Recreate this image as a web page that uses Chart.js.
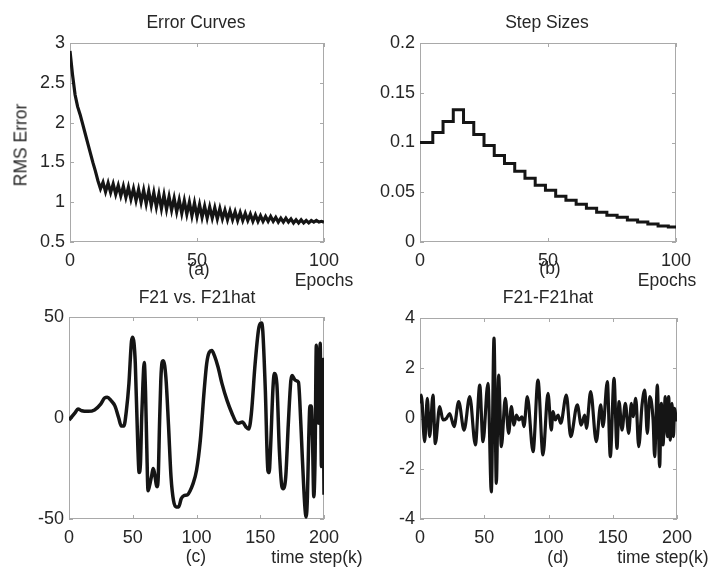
<!DOCTYPE html>
<html lang="en">
<head>
<meta charset="UTF-8">
<title>Error Curves / Step Sizes / F21 vs. F21hat</title>
<script src="https://cdn.jsdelivr.net/npm/chart.js@4.4.1/dist/chart.umd.min.js"></script>
<style>
  body { margin: 0; background: #fff; }
  #page { position: relative; width: 716px; height: 582px; overflow: hidden;
          font-family: "Liberation Sans", Arial, sans-serif; color: #262626; }
  .layer { position: absolute; left: 0; top: 0; }
  .txt { position: absolute; transform: translate(-50%, -50%); font-size: 17.5px; white-space: nowrap; }
  .rot { transform: translate(-50%, -50%) rotate(-90deg); }
</style>
</head>
<body>
<div id="page">
  <canvas id="chartA" class="layer" width="716" height="582"></canvas>
  <canvas id="chartB" class="layer" width="716" height="582"></canvas>
  <canvas id="chartC" class="layer" width="716" height="582"></canvas>
  <canvas id="chartD" class="layer" width="716" height="582"></canvas>

  <div class="txt" style="left:196px;top:22px">Error Curves</div>
  <div class="txt" style="left:547px;top:22px">Step Sizes</div>
  <div class="txt rot" style="left:21px;top:145px">RMS Error</div>
  <div class="txt" style="left:199px;top:269px">(a)</div>
  <div class="txt" style="left:324px;top:280px">Epochs</div>
  <div class="txt" style="left:550px;top:268px">(b)</div>
  <div class="txt" style="left:667px;top:280px">Epochs</div>

  <div class="txt" style="left:197px;top:297px">F21 vs. F21hat</div>
  <div class="txt" style="left:548px;top:297px">F21-F21hat</div>
  <div class="txt" style="left:196px;top:556px">(c)</div>
  <div class="txt" style="left:317px;top:557px">time step(k)</div>
  <div class="txt" style="left:558px;top:557px">(d)</div>
  <div class="txt" style="left:663px;top:557px">time step(k)</div>
</div>

<script>
// (a) RMS error per epoch 0..100
const rmsError = [
  2.9, 2.6, 2.35, 2.2, 2.1, 1.98, 1.86, 1.74, 1.62, 1.5,
  1.39, 1.27, 1.17, 1.25, 1.13, 1.24, 1.12, 1.23, 1.1, 1.21,
  1.08, 1.2, 1.06, 1.19, 1.04, 1.17, 1.02, 1.16, 1.0, 1.15,
  0.98, 1.14, 0.96, 1.12, 0.94, 1.1, 0.92, 1.09, 0.91, 1.07,
  0.9, 1.05, 0.88, 1.03, 0.86, 1.02, 0.85, 1.0, 0.83, 0.99,
  0.82, 0.97, 0.81, 0.95, 0.8, 0.94, 0.8, 0.93, 0.79, 0.92,
  0.79, 0.9, 0.78, 0.89, 0.78, 0.88, 0.77, 0.87, 0.77, 0.86,
  0.77, 0.85, 0.76, 0.84, 0.76, 0.83, 0.76, 0.82, 0.76, 0.82,
  0.76, 0.81, 0.75, 0.8, 0.75, 0.8, 0.75, 0.79, 0.74, 0.78,
  0.74, 0.78, 0.74, 0.77, 0.74, 0.77, 0.75, 0.77, 0.75, 0.76,
  0.75
];
const aTicksX = [0, 50, 100];
const aTicksY = [0.5, 1, 1.5, 2, 2.5, 3];

// (b) step size levels, each starting at the given epoch
const stepEpochs = [0, 5, 9, 13, 17, 21, 25, 29, 33, 37, 41, 45, 49, 53, 57, 61, 65, 69, 73, 77, 81, 85, 89, 93, 97, 100];
const stepSizes = [0.1, 0.11, 0.121, 0.133, 0.12, 0.108, 0.097, 0.087, 0.079, 0.071, 0.064, 0.057, 0.052,
                   0.046, 0.042, 0.038, 0.034, 0.030, 0.027, 0.025, 0.022, 0.020, 0.018, 0.016, 0.015, 0.015];
const bTicksX = [0, 50, 100];
const bTicksY = [0, 0.05, 0.1, 0.15, 0.2];

// (c) F21 tracking
const timeC = [0, 5, 7, 10, 15, 20, 25, 28, 30, 33, 36, 39, 41, 43, 45, 47, 49, 50, 51, 52,
  54, 55, 56, 57, 58, 59, 60, 61, 62, 63, 65, 66, 67, 69, 70, 71, 72, 73, 74, 76,
  78, 80, 82, 84, 86, 88, 90, 93, 95, 97, 100, 103, 106, 108, 110, 112, 114, 117, 120, 124,
  128, 131, 133, 136, 139, 141, 143, 146, 149, 151, 152, 154, 156, 157, 158, 160, 161, 163, 165, 167,
  168, 170, 172, 174, 175, 177, 178, 180, 181, 183, 185, 186, 187, 188, 189, 190, 191, 192, 193, 194,
  195, 196, 197, 198, 199, 200];
const f21 = [-1, 2.8, 4.5, 3.6, 3.3, 4, 7, 10, 10.3, 8.6, 6, 0, -4, -4, 3.6, 17, 38, 40, 37, 27,
  -14.5, -27, -23, 0, 17, 27.5, 13.5, -14.5, -36, -34, -28, -25, -27, -34, -29, -3, 18.5, 27.5, 28.4, 20,
  -3, -29, -41, -44, -44, -40, -38.5, -38, -36, -33, -26, -11, 13.5, 27, 32.5, 33.4, 31, 25, 17, 8.6,
  2, -2, -2.6, -2, -4.6, -5.5, 2, 27, 45, 47, 43, 13.5, -26, -27, -16, 15, 22, 17, -16, -34,
  -35, -29, -3, 18.5, 21, 19, 18.5, 17.7, 8.6, -19.5, -44, -49, -39, -11, 6, 6, -11, -39, -19.5, 36,
  -2, -2.6, 37, -24, 29, -38];
const cTicksX = [0, 50, 100, 150, 200];
const cTicksY = [-50, 0, 50];

// (d) F21 - F21hat
const timeD = [0, 1, 3.6, 5.7, 7.5, 10.1, 11.9, 15.3, 17.9, 20.5, 23.1, 26.5, 30.1, 34.3, 38.7, 43.1, 46.5, 49, 52.9, 55.5,
  57.6, 59.4, 61.2, 63.3, 66.4, 69, 71.1, 73.1, 75, 77, 79.4, 80.9, 83.5, 88, 91.8, 95.7, 99.6, 102.2, 103.5, 105.3,
  107.4, 109.5, 113.9, 117.3, 122.4, 125.5, 128.2, 129.5, 132.8, 137.2, 140.6, 142.4, 145.8, 148.1, 151, 153.3, 154.9, 157.2, 159.8, 162.4,
  164.5, 165.8, 167.9, 170.2, 172.8, 174.9, 176.9, 178.8, 181.4, 182.6, 184.7, 186.5, 187.8, 189.1, 190.9, 192.5, 193.5, 194.8, 196.1, 197.2,
  198.2, 199.5, 200];
const f21Diff = [0.6, 0.93, -0.92, 0.8, -0.72, 0.93, -1.0, 0.47, -0.06, 0, 0.2, -0.32, 0.67, -0.46, 0.87, -1.05, 1.33, -0.92, 1.4, -2.92,
  3.2, -2.58, 1.73, -1.12, 0.8, -0.59, 0.47, -0.26, 0.14, -0.06, 0.07, -0.32, 0.87, -1.32, 1.53, -1.45, 1.0, -0.46, 0.27, -0.06,
  0.14, -0.19, 0.93, -0.72, 0.54, -0.26, 0.14, -0.39, 1.07, -0.92, 0.54, -0.32, 1.47, -1.52, 1.6, -1.19, 0.67, -0.46, 0.6, -0.59,
  0.6, 0.07, 0.8, -1.12, 0.54, 1.13, -0.59, 0.87, -0.06, -1.52, 1.33, -1.92, 0.6, -1.05, 0.87, -0.72, 0.87, -0.86, 0.6, -0.72,
  0.4, -0.06, 0.1];
const dTicksX = [0, 50, 100, 150, 200];
const dTicksY = [-4, -2, 0, 2, 4];

const W = 716, H = 582, YW = 60, XH = 30;
const inkColor = '#151515';
const frameColor = '#a9a9a9';
const fontFamily = '"Liberation Sans", Arial, sans-serif';

// gray box round the plot area with small inward ticks on all four sides
const framePlugin = {
  id: 'frame',
  beforeDatasetsDraw(chart) {
    const { ctx, chartArea: a, scales: { x, y } } = chart;
    ctx.save();
    ctx.strokeStyle = frameColor;
    ctx.lineWidth = 1;
    ctx.strokeRect(a.left + 0.5, a.top + 0.5, a.right - a.left - 1, a.bottom - a.top - 1);
    ctx.beginPath();
    x.ticks.forEach(t => {
      const px = Math.round(x.getPixelForValue(t.value)) + 0.5;
      ctx.moveTo(px, a.bottom); ctx.lineTo(px, a.bottom - 4);
      ctx.moveTo(px, a.top); ctx.lineTo(px, a.top + 4);
    });
    y.ticks.forEach(t => {
      const py = Math.round(y.getPixelForValue(t.value)) + 0.5;
      ctx.moveTo(a.left, py); ctx.lineTo(a.left + 4, py);
      ctx.moveTo(a.right, py); ctx.lineTo(a.right - 4, py);
    });
    ctx.stroke();
    ctx.restore();
  }
};

function axis(ticksArr, min, max, isX) {
  return {
    type: 'linear',
    min: min,
    max: max,
    afterBuildTicks: s => { s.ticks = ticksArr.map(v => ({ value: v })); },
    afterFit: s => { if (isX) s.height = XH; else s.width = YW; },
    grid: { display: false, drawTicks: false },
    border: { display: false },
    ticks: {
      padding: isX ? 8 : 5,
      color: '#262626',
      font: { size: 18, family: fontFamily },
      maxRotation: 0,
      autoSkip: false,
      callback: v => String(v)
    }
  };
}

function makeChart(id, box, datasets, xs, ys) {
  return new Chart(document.getElementById(id), {
    type: 'line',
    data: { datasets: datasets },
    options: {
      responsive: false,
      animation: false,
      devicePixelRatio: 1,
      layout: { padding: { left: box.l - YW, top: box.t, right: W - box.r, bottom: H - box.b - XH } },
      plugins: { legend: { display: false }, tooltip: { enabled: false } },
      elements: { point: { radius: 0 } },
      scales: { x: xs, y: ys }
    },
    plugins: [framePlugin]
  });
}

makeChart('chartA', { l: 70, r: 324, t: 43, b: 242 }, [{
  data: rmsError.map((v, i) => ({ x: i, y: v })),
  borderColor: inkColor, borderWidth: 3.2, tension: 0
}], axis(aTicksX, 0, 100, true), axis(aTicksY, 0.5, 3, false));

// horizontal run first, then the jump at the next epoch
makeChart('chartB', { l: 420, r: 676, t: 43, b: 242 }, [{
  data: stepEpochs.map((e, i) => ({ x: e, y: stepSizes[i] })),
  borderColor: inkColor, borderWidth: 3, stepped: true
}], axis(bTicksX, 0, 100, true), axis(bTicksY, 0, 0.2, false));

makeChart('chartC', { l: 69, r: 324, t: 317, b: 519 }, [{
  data: timeC.map((t, i) => ({ x: t, y: f21[i] })),
  borderColor: inkColor, borderWidth: 3.5, cubicInterpolationMode: 'monotone'
}], axis(cTicksX, 0, 200, true), axis(cTicksY, -50, 50, false));

makeChart('chartD', { l: 420, r: 677, t: 318, b: 519 }, [{
  data: timeD.map((t, i) => ({ x: t, y: f21Diff[i] })),
  borderColor: inkColor, borderWidth: 3.2, cubicInterpolationMode: 'monotone'
}], axis(dTicksX, 0, 200, true), axis(dTicksY, -4, 4, false));
</script>
</body>
</html>
